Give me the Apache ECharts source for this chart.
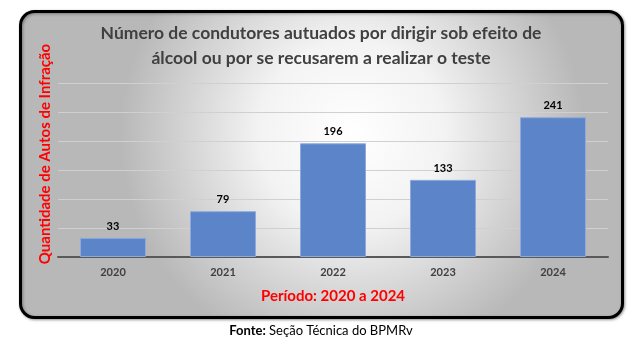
<!DOCTYPE html>
<html>
<head>
<meta charset="utf-8">
<script src="https://cdn.jsdelivr.net/npm/echarts@6/dist/echarts.min.js"></script>
<style>
  html, body { margin: 0; padding: 0; background: #ffffff; }
  #chart { width: 642px; height: 349px; }
</style>
</head>
<body>
<div id="chart"></div>
<script>
// Autos de infração por ano
const years = ['2020', '2021', '2022', '2023', '2024'];
const autos = [33, 79, 196, 133, 241];
const titleLines = [
  'Número de condutores autuados por dirigir sob efeito de',
  'álcool ou por se recusarem a realizar o teste'
];
const yAxisName = 'Quantidade de Autos de Infração';
const xAxisName = 'Período: 2020 a 2024';
const sourceLabel = 'Fonte:';
const sourceText = ' Seção Técnica do BPMRv';

const FONT = 'Lato, "Open Sans", sans-serif';
const chart = echarts.init(document.getElementById('chart'), null, { renderer: 'canvas' });

chart.setOption({
  animation: false,
  backgroundColor: '#ffffff',
  textStyle: { fontFamily: FONT },
  graphic: [
    {
      type: 'rect',
      z: -10,
      shape: { x: 20.5, y: 11.5, width: 602, height: 306, r: 14 },
      style: {
        fill: new echarts.graphic.RadialGradient(0.55, 0.4, 0.75, [
          { offset: 0, color: '#ffffff' },
          { offset: 0.4, color: '#f3f3f3' },
          { offset: 1, color: '#b8b8b8' }
        ]),
        stroke: '#000000',
        lineWidth: 3,
        shadowBlur: 3,
        shadowOffsetX: 1,
        shadowOffsetY: 1,
        shadowColor: 'rgba(0,0,0,0.35)'
      }
    },
    {
      type: 'text',
      left: 'center',
      top: 21,
      style: {
        text: titleLines.join('\n'),
        font: 'bold 17.5px ' + FONT,
        fill: '#404040',
        textAlign: 'center',
        lineHeight: 25
      }
    },
    {
      // rotated axis title, placed a bit above the plot's vertical centre
      type: 'text',
      x: 45,
      y: 154,
      rotation: Math.PI / 2,
      style: {
        text: yAxisName,
        font: 'bold 15px ' + FONT,
        fill: '#ff0000',
        align: 'center',
        verticalAlign: 'middle'
      }
    },
    {
      type: 'text',
      left: 'center',
      top: 324,
      style: {
        rich: {
          b: { font: 'bold 13px ' + FONT, fill: '#000000' },
          n: { font: '13px ' + FONT, fill: '#000000' }
        },
        text: '{b|' + sourceLabel + '}{n|' + sourceText + '}'
      }
    }
  ],
  grid: { left: 58, right: 34, top: 83, bottom: 92 },
  xAxis: {
    type: 'category',
    data: years,
    name: xAxisName,
    nameLocation: 'middle',
    nameGap: 32,
    nameTextStyle: { color: '#ff0000', fontWeight: 'bold', fontSize: 15, fontFamily: FONT },
    axisLine: { lineStyle: { color: '#595959', width: 2 } },
    axisTick: { show: false },
    axisLabel: { color: '#404040', fontWeight: 'bold', fontSize: 11, margin: 10, fontFamily: FONT }
  },
  yAxis: {
    type: 'value',
    min: 0,
    max: 300,
    interval: 50,
    axisLine: { show: false },
    axisTick: { show: false },
    axisLabel: { show: false },
    splitLine: { lineStyle: { color: '#d0d0d0', width: 1 } }
  },
  series: [{
    type: 'bar',
    data: autos,
    barWidth: '60%',
    itemStyle: { color: '#5b84c9', borderColor: '#8eaadb', borderWidth: 1 },
    label: {
      show: true,
      position: 'top',
      distance: 6,
      color: '#000000',
      fontWeight: 'bold',
      fontSize: 11,
      fontFamily: FONT
    }
  }]
});
</script>
</body>
</html>
